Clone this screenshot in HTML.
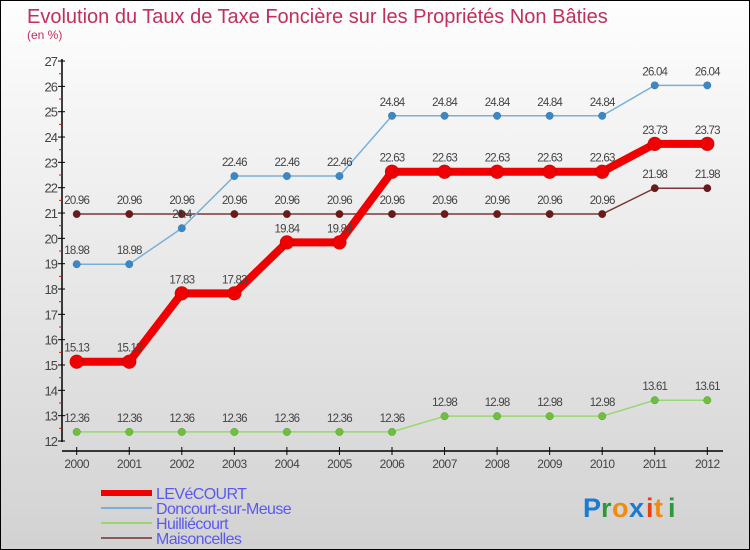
<!DOCTYPE html>
<html><head><meta charset="utf-8"><style>
html,body{margin:0;padding:0;}
body{width:750px;height:550px;overflow:hidden;font-family:"Liberation Sans",sans-serif;}
#wrap{position:relative;width:748px;height:548px;border:1px solid #000;background:linear-gradient(#fefefe,#d2d2d2);}
</style></head><body>
<div id="wrap">
<svg id="chart" width="748" height="548" style="position:absolute;left:0;top:0">
<text x="26" y="22" font-size="20" fill="#c0305a">Evolution du Taux de Taxe Foncière sur les Propriétés Non Bâties</text>
<text x="26" y="38" font-size="12" fill="#c0305a">(en %)</text>
<g id="axes"></g><g id="series"></g><g id="legend"></g>
<g font-size="27" font-weight="bold" font-family="Liberation Sans, sans-serif">
<text x="582" y="516" fill="#1a7ad4">P</text><text x="600" y="516" fill="#2a9a3a">r</text><text x="611" y="516" fill="#f08a10">o</text><text x="628" y="516" fill="#1a7ad4">x</text><text x="645" y="516" fill="#e84010">i</text><text x="653" y="516" fill="#f08a10">t</text><text x="667" y="516" fill="#2a9a3a">i</text>
</g>
</svg>
</div>
<script>
const years=[2000,2001,2002,2003,2004,2005,2006,2007,2008,2009,2010,2011,2012];
const yTicks=[12,13,14,15,16,17,18,19,20,21,22,23,24,25,26,27];
const levecourt=[15.13,15.13,17.83,17.83,19.84,19.84,22.63,22.63,22.63,22.63,22.63,23.73,23.73];
const doncourt=[18.98,18.98,20.4,22.46,22.46,22.46,24.84,24.84,24.84,24.84,24.84,26.04,26.04];
const huilliecourt=[12.36,12.36,12.36,12.36,12.36,12.36,12.36,12.98,12.98,12.98,12.98,13.61,13.61];
const maisoncelles=[20.96,20.96,20.96,20.96,20.96,20.96,20.96,20.96,20.96,20.96,20.96,21.98,21.98];
const NS='http://www.w3.org/2000/svg';
const X=i=>75.7+i*52.55;
const Y=v=>440-(v-12)*25.33;
function mk(t,a,p){const e=document.createElementNS(NS,t);for(const k in a)e.setAttribute(k,a[k]);p.appendChild(e);return e;}
const ax=document.getElementById('axes');
const ya=mk('line',{x1:61,y1:Y(27)-2,x2:61,y2:Y(12)+1,stroke:'#000','stroke-width':1.5},ax);


yTicks.forEach(v=>{
 mk('line',{x1:57,y1:Y(v),x2:64,y2:Y(v),stroke:'#000'},ax);
 if(v<27)mk('line',{x1:58,y1:Y(v+0.5),x2:61,y2:Y(v+0.5),stroke:'#f00'},ax);
 const t=mk('text',{x:56,y:Y(v)+5,'text-anchor':'end','font-size':13,fill:'#444','letter-spacing':'-1'},ax);
 t.textContent=v;
 
 
});
const xa=mk('line',{x1:61,y1:450,x2:722,y2:450,stroke:'#000','stroke-width':1.5},ax);


years.forEach((y,i)=>{
 mk('line',{x1:X(i),y1:446,x2:X(i),y2:454,stroke:'#000'},ax);
 const t=mk('text',{x:X(i),y:467,'text-anchor':'middle','font-size':12,fill:'#444','letter-spacing':'-0.5'},ax);
 t.textContent=y;
 
 
});
const sg=document.getElementById('series');
function series(data,name,line,pt,w,r){
 const g=mk('g',{},sg);
 
 
 const pl=mk('polyline',{points:data.map((v,i)=>X(i)+','+Y(v)).join(' '),fill:'none',stroke:line,'stroke-width':w,'stroke-linejoin':'round'},g);
 
 
 data.forEach((v,i)=>{
  const c=mk('circle',{cx:X(i),cy:Y(v),r:r,fill:pt,stroke:'rgba(0,0,0,0.25)','stroke-width':0.5},g);
  
  
  const t=mk('text',{x:X(i),y:Y(v)-10,'text-anchor':'middle','font-size':11.5,fill:'#444','letter-spacing':'-0.8'},g);
  t.textContent=String(v).replace(/\.?0+$/,'');
  
  
 });
}
series(huilliecourt,'huilliecourt','#99d870','#6cc03a',1.5,3.8);
series(maisoncelles,'maisoncelles','#7a3a3a','#6b1a1a',1.5,3.8);
series(doncourt,'doncourt','#7ab0d8','#3a88c8',1.5,3.8);
series(levecourt,'levecourt','#f00000','#f00000',8,7);
const lg=document.getElementById('legend');
const items=[['LEVéCOURT','#f00000',6],['Doncourt-sur-Meuse','#7ab0d8',2],['Huilliécourt','#99d870',2],['Maisoncelles','#8a5a5a',2]];
items.forEach((it,i)=>{
 const y=492+i*15;
 const l=mk('line',{x1:100,y1:y,x2:151,y2:y,stroke:it[1],'stroke-width':it[2]},lg);
 
 
 const t=mk('text',{x:155,y:y+6,'font-size':16,fill:'#5a5aee','letter-spacing':'-0.6'},lg);
 t.textContent=it[0];
 
 
});
</script>
</body></html>
